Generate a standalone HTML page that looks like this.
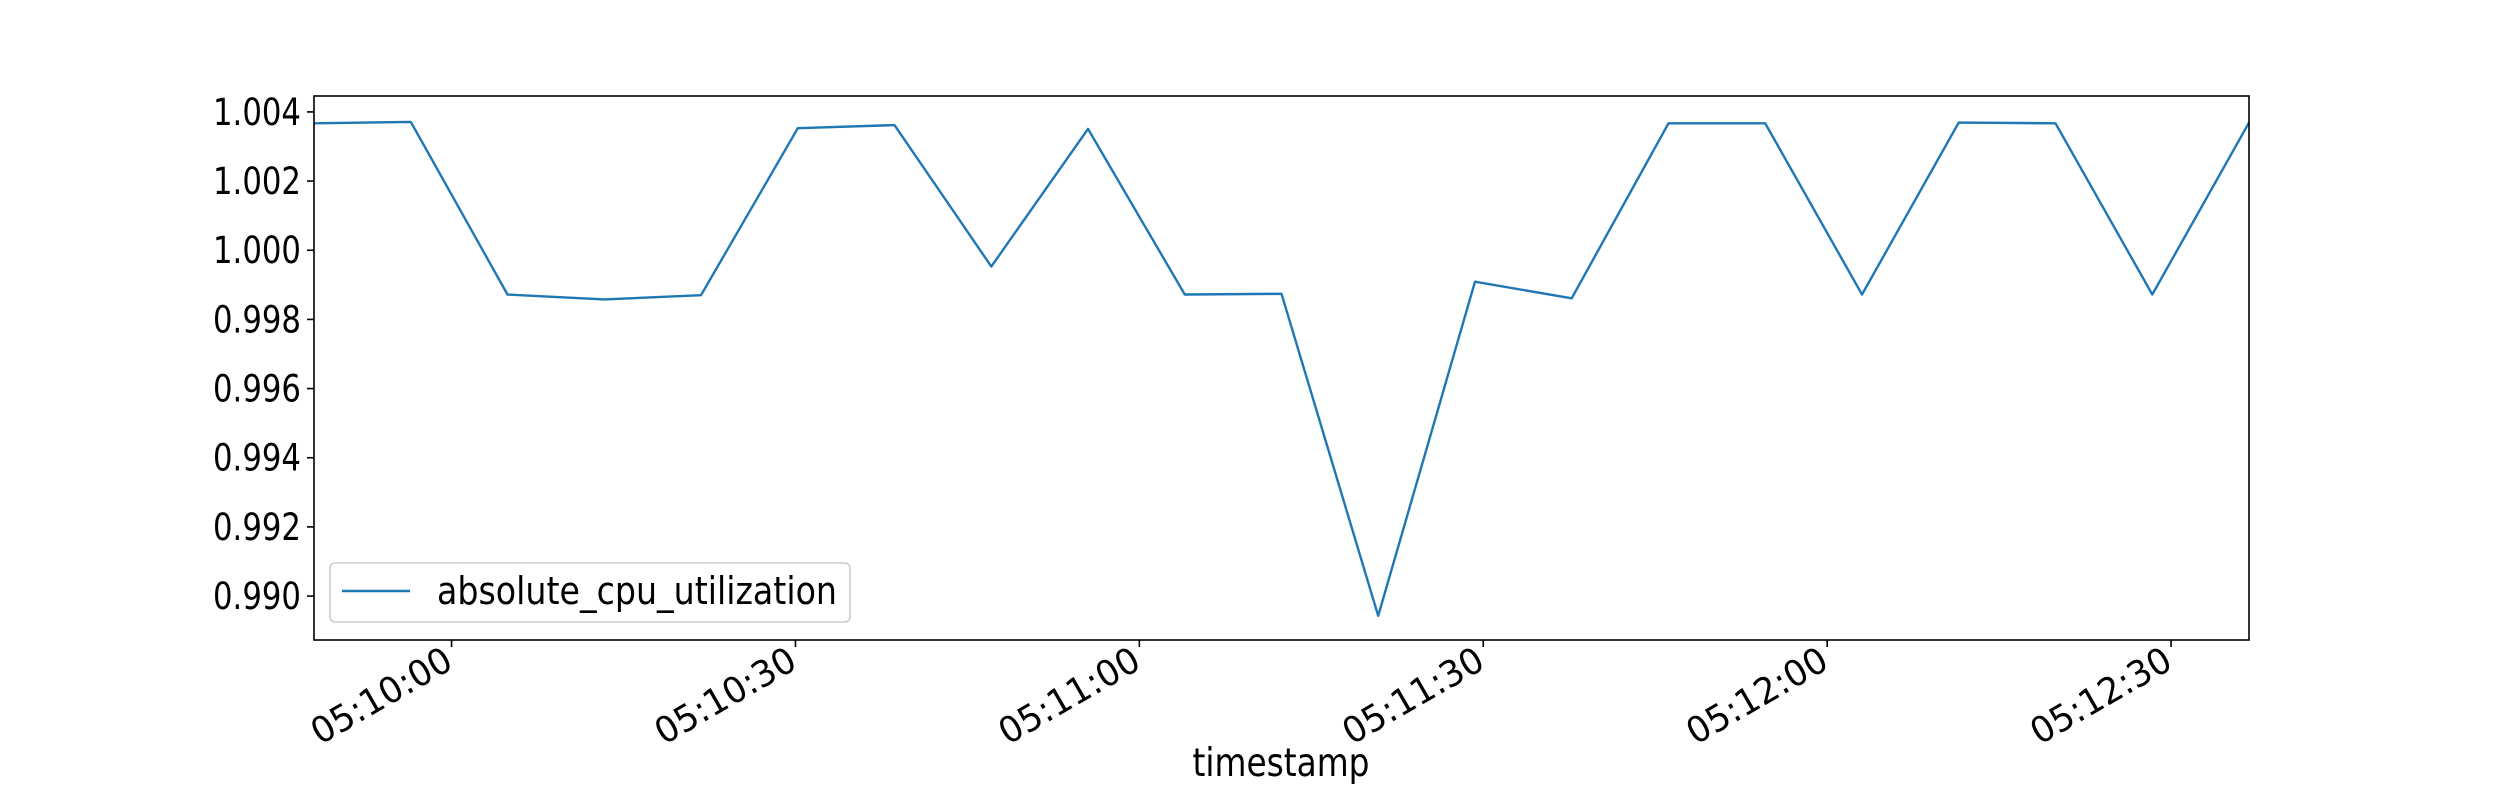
<!DOCTYPE html>
<html><head><meta charset="utf-8"><style>
html,body{margin:0;padding:0;background:#fff;}
svg{display:block;font-family:"DejaVu Sans","Liberation Sans",sans-serif;}
</style></head><body>
<svg id="chart" width="2500" height="800" viewBox="0 0 2500 800">
<rect x="0" y="0" width="2500" height="800" fill="#fff"/>
<polyline id="series" fill="none" stroke="#1f77b4" stroke-width="2.4" stroke-linejoin="round"/>
<rect x="314" y="96" width="1935" height="544" fill="none" stroke="#000" stroke-width="1.6"/>
<g id="yticks"></g>
<g id="xticks"></g>
<text x="1281" y="776" font-size="39" text-anchor="middle" textLength="177" lengthAdjust="spacingAndGlyphs">timestamp</text>
<g>
<rect x="330" y="563" width="520" height="59" rx="5" fill="#fff" fill-opacity="0.8" stroke="#ccc" stroke-width="1.6"/>
<line x1="342" y1="591" x2="410" y2="591" stroke="#1f77b4" stroke-width="2.4"/>
<text x="437" y="604" font-size="38" textLength="400" lengthAdjust="spacingAndGlyphs">absolute_cpu_utilization</text>
</g>
</svg>
<script>
// seconds relative to 05:10:00
const times = [-12, -3.56, 4.88, 13.32, 21.76, 30.2, 38.64, 47.08, 55.52, 63.96, 72.4, 80.84, 89.28, 97.72, 106.16, 114.6, 123.04, 131.48, 139.92, 148.36, 156.8];
const values = [1.00367, 1.00371, 0.99872, 0.99858, 0.9987, 1.00353, 1.00362, 0.99953, 1.00351, 0.99872, 0.99874, 0.98943, 0.99909, 0.99861, 1.00367, 1.00367, 0.99872, 1.00369, 1.00367, 0.99872, 1.00369];
const yTicks = [0.990, 0.992, 0.994, 0.996, 0.998, 1.000, 1.002, 1.004];
const xTickSecs = [0, 30, 60, 90, 120, 150];
const xTickLabels = ["05:10:00", "05:10:30", "05:11:00", "05:11:30", "05:12:00", "05:12:30"];

const L = 314, R = 2249, T = 96, B = 640;
const xMin = times[0], xMax = times[times.length - 1];
const yMin = 0.98873, yMax = 1.00446;
const sx = t => L + (t - xMin) / (xMax - xMin) * (R - L);
const sy = v => B - (v - yMin) / (yMax - yMin) * (B - T);
const NS = "http://www.w3.org/2000/svg";

document.getElementById('series').setAttribute('points', times.map((t, i) => sx(t).toFixed(1) + ',' + sy(values[i]).toFixed(1)).join(' '));

const yg = document.getElementById('yticks');
yTicks.forEach(v => {
  const y = sy(v);
  const ln = document.createElementNS(NS, 'line');
  ln.setAttribute('x1', L - 7); ln.setAttribute('x2', L); ln.setAttribute('y1', y); ln.setAttribute('y2', y);
  ln.setAttribute('stroke', '#000'); ln.setAttribute('stroke-width', '1.6');
  
  
  yg.appendChild(ln);
  const tx = document.createElementNS(NS, 'text');
  tx.setAttribute('x', L - 13); tx.setAttribute('y', y + 13);
  tx.setAttribute('font-size', '37'); tx.setAttribute('text-anchor', 'end');
  tx.setAttribute('textLength', '88'); tx.setAttribute('lengthAdjust', 'spacingAndGlyphs');
  tx.textContent = v.toFixed(3);
  
  
  yg.appendChild(tx);
});

const xg = document.getElementById('xticks');
xTickSecs.forEach((s, i) => {
  const x = sx(s);
  const ln = document.createElementNS(NS, 'line');
  ln.setAttribute('x1', x); ln.setAttribute('x2', x); ln.setAttribute('y1', B); ln.setAttribute('y2', B + 7);
  ln.setAttribute('stroke', '#000'); ln.setAttribute('stroke-width', '1.6');
  
  
  xg.appendChild(ln);
  const tx = document.createElementNS(NS, 'text');
  tx.setAttribute('transform', 'translate(' + (x - 10) + ',' + (B + 4) + ') rotate(-30)');
  tx.setAttribute('font-size', '36'); tx.setAttribute('text-anchor', 'end');
  tx.setAttribute('dy', '27');
  tx.setAttribute('textLength', '156'); tx.setAttribute('lengthAdjust', 'spacingAndGlyphs');
  tx.textContent = xTickLabels[i];
  
  
  xg.appendChild(tx);
});
</script>
</body></html>
